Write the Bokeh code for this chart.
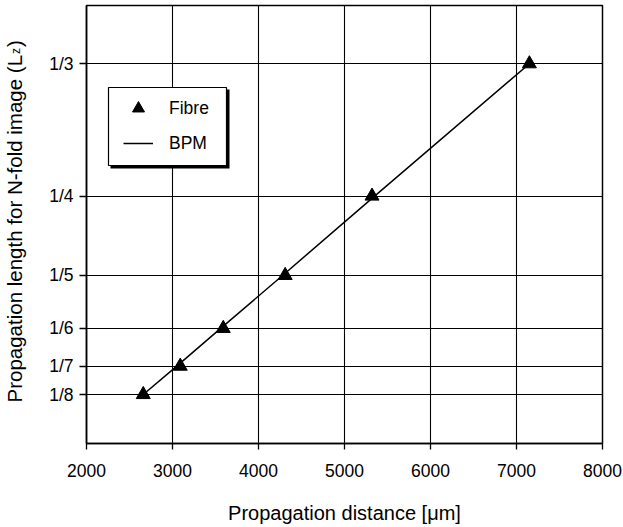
import math
from bokeh.plotting import figure
from bokeh.layouts import row
from bokeh.models import FixedTicker, Legend, LegendItem, Label, BoxAnnotation, Range1d
from bokeh.embed import file_html
from bokeh.resources import INLINE

# ---- data ----
n_fold = [8, 7, 6, 5, 4, 3]
y_tick_labels = ["1/8", "1/7", "1/6", "1/5", "1/4", "1/3"]
fibre_x = [2660, 3090, 3590, 4310, 5320, 7150]
bpm_x = [2660, 3050, 3560, 4280, 5350, 7150]
x_ticks = [2000, 3000, 4000, 5000, 6000, 7000, 8000]

y_vals = [1.0 / n for n in n_fold]

FONT = "Liberation Sans"
TITLE_W = 40
TOP, BOTTOM = 5, 84

# ---- narrow strip carrying the y-axis title (with subscript) ----
pt = figure(width=TITLE_W, height=527, output_backend="svg", toolbar_location=None,
            x_range=Range1d(0, 1), y_range=Range1d(0, 1),
            min_border_left=0, min_border_right=0, min_border_top=TOP,
            min_border_bottom=BOTTOM, x_axis_location=None, y_axis_location=None,
            background_fill_color="white", border_fill_color="white")
pt.outline_line_color = None
pt.grid.visible = False
lab_kw = dict(x_units="screen", y_units="screen", angle=math.pi / 2,
              text_font=FONT, text_color="black",
              text_align="left", text_baseline="alphabetic")
pt.add_layout(Label(x=14, y=41, text="Propagation length for N-fold image (L",
                    text_font_size="20.5px", **lab_kw))
pt.add_layout(Label(x=15, y=389.5, text="z", text_font_size="12px", **lab_kw))
pt.add_layout(Label(x=14, y=396.5, text=")", text_font_size="20.5px", **lab_kw))

# ---- main chart ----
p = figure(width=623 - TITLE_W, height=527, output_backend="svg", toolbar_location=None,
           x_range=Range1d(2000, 8000), y_range=Range1d(0.09416, 0.37003),
           min_border_left=86 - TITLE_W, min_border_right=21, min_border_top=TOP,
           min_border_bottom=BOTTOM, background_fill_color="white",
           border_fill_color="white")

p.outline_line_color = "black"
p.outline_line_width = 1.5

# grid
p.xgrid.ticker = FixedTicker(ticks=x_ticks)
p.ygrid.ticker = FixedTicker(ticks=y_vals)
for g in (p.xgrid, p.ygrid):
    g.grid_line_color = "black"
    g.grid_line_width = 1.1
    g.grid_line_alpha = 1.0

# axes
p.xaxis.ticker = FixedTicker(ticks=x_ticks)
p.yaxis.ticker = FixedTicker(ticks=y_vals)
p.yaxis.major_label_overrides = {v: s for v, s in zip(y_vals, y_tick_labels)}
for ax in (p.xaxis, p.yaxis):
    ax.axis_line_color = "black"
    ax.axis_line_width = 1.5
    ax.major_tick_line_color = "black"
    ax.major_tick_line_width = 1.3
    ax.major_tick_in = 0
    ax.minor_tick_line_color = None
    ax.major_label_text_font = FONT
    ax.major_label_text_font_size = "17.5px"
    ax.major_label_text_color = "black"
p.xaxis.major_tick_out = 6
p.yaxis.major_tick_out = 7
p.xaxis.major_label_standoff = 14
p.yaxis.major_label_standoff = 6

p.xaxis.axis_label = "Propagation distance [\u03bcm]"
p.xaxis.axis_label_text_font = FONT
p.xaxis.axis_label_text_font_size = "20px"
p.xaxis.axis_label_text_font_style = "normal"
p.xaxis.axis_label_text_color = "black"
p.xaxis.axis_label_standoff = 22
p.yaxis.axis_label = None

# data
ln = p.line(bpm_x, y_vals, line_color="black", line_width=1.5)
sc = p.scatter(fibre_x, y_vals, marker="triangle", size=14,
               fill_color="black", line_color="black")

# legend box with shadow
box_units = dict(left_units="screen", right_units="screen",
                 top_units="screen", bottom_units="screen")
p.add_layout(BoxAnnotation(left=24, right=143, top=354, bottom=275,
                           fill_color="black", fill_alpha=1.0, line_alpha=0,
                           **box_units))
p.add_layout(BoxAnnotation(left=22, right=140, top=356, bottom=278,
                           fill_color="white", fill_alpha=1.0,
                           line_color="black", line_width=1.2, line_alpha=1.0,
                           **box_units))

legend = Legend(items=[LegendItem(label="Fibre", renderers=[sc]),
                       LegendItem(label="BPM", renderers=[ln])],
                location=(37, 285), padding=0, margin=0,
                glyph_width=30, glyph_height=30, spacing=5, label_standoff=16,
                label_text_font=FONT, label_text_font_size="17.5px",
                label_text_color="black",
                border_line_alpha=0, background_fill_alpha=0)
p.add_layout(legend)

layout = row(pt, p, spacing=0)
open("out.html", "w").write(file_html(layout, INLINE))
